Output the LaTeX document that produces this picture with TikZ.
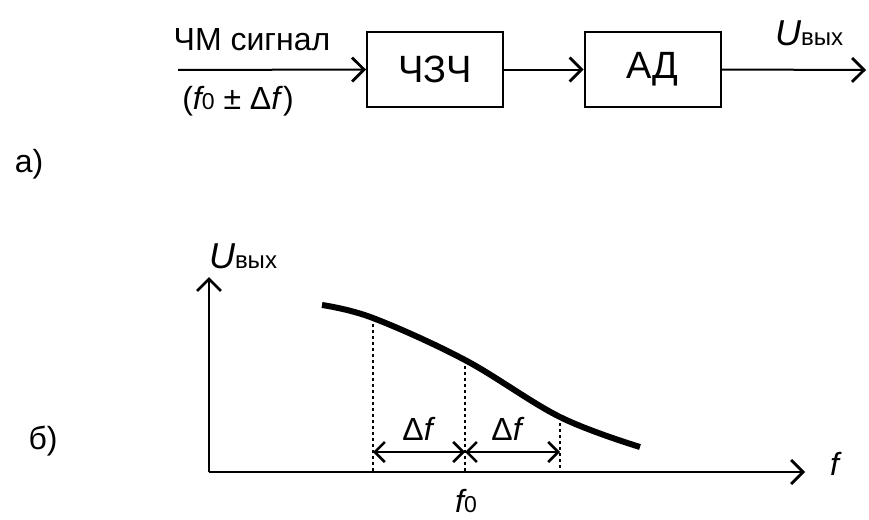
\documentclass[tikz,border=0pt]{standalone}
\usepackage{fontspec}
\setmainfont{Liberation Sans}
\usetikzlibrary{arrows.meta}
\newcommand{\Uout}{{\fontsize{36}{36}\selectfont\itshape U}{\fontsize{24}{24}\selectfont вых}}
\newcommand{\fz}{{\itshape f}{\fontsize{23}{23}\selectfont 0}}
\begin{document}
\begin{tikzpicture}[x=1pt,y=-1pt,
  every node/.style={inner sep=0pt},
  blk/.style={draw,line width=2pt,minimum width=136pt,minimum height=75pt,font=\fontsize{38}{44}\selectfont},
  lbl/.style={font=\fontsize{32}{38}\selectfont},
  conn/.style={line width=2pt,-{Straight Barb[length=12pt,width=24pt,line width=2.8pt]}},
  dim/.style={line width=1.6pt,{Straight Barb[length=10pt,width=20pt,line width=2.6pt]}-{Straight Barb[length=10pt,width=20pt,line width=2.6pt]}},
  guide/.style={line width=1.3pt,dash pattern=on 3pt off 3pt}]
\useasboundingbox (0,0) rectangle (869,519);
% part a
\node[blk] (czc) at (435,69.5) {ЧЗЧ};
\node[blk] (ad) at (652.5,69.5) {АД};
\coordinate (in) at (178,70);
\coordinate (out) at (866,70);
\draw[conn] (in) -- (czc.west);
\draw[conn] (czc.east) -- (ad.west);
\draw[conn] (ad.east) -- (out);
\node[lbl] (sig) at (252,40) {ЧМ сигнал};
\node[lbl] (sig2) at (238,101) {(\fz\ ± Δ\textit{f})};
\node[lbl] (uo) at (809,33) {\Uout};
\node[lbl] (la) at (29,164) {а)};
% part b
\node[lbl] (lb) at (43,441) {б)};
\coordinate (O) at (209,472);
\coordinate (ytop) at (209,277);
\coordinate (xend) at (805,472);
\draw[conn] (O) -- (ytop);
\draw[conn] (O) -- (xend);
\node[lbl] (uy) at (243,256) {\Uout};
\node[lbl] (fx) at (836,464) {\textit{f}};
\node[lbl,anchor=base] (f0) at (466,512) {\fz};
\draw[line width=6pt] plot[smooth,tension=0.6] coordinates {(322,305) (373,318) (465,360) (560,417) (640,447)};
\coordinate (p1) at (373,318);
\coordinate (p2) at (465,360);
\coordinate (p3) at (560,417);
\coordinate (b1) at (373,472);
\coordinate (b2) at (465,472);
\coordinate (b3) at (560,472);
\draw[guide] (p1) -- (b1);
\draw[guide] (p2) -- (b2);
\draw[guide] (p3) -- (b3);
\coordinate (d1) at (373,452);
\coordinate (d2) at (465,452);
\coordinate (d3) at (560,452);
\draw[dim] (d1) -- (d2);
\draw[dim] (d2) -- (d3);
\node[lbl] (df1) at (419,429) {Δ\textit{f}};
\node[lbl] (df2) at (508,429) {Δ\textit{f}};
\end{tikzpicture}
\end{document}
